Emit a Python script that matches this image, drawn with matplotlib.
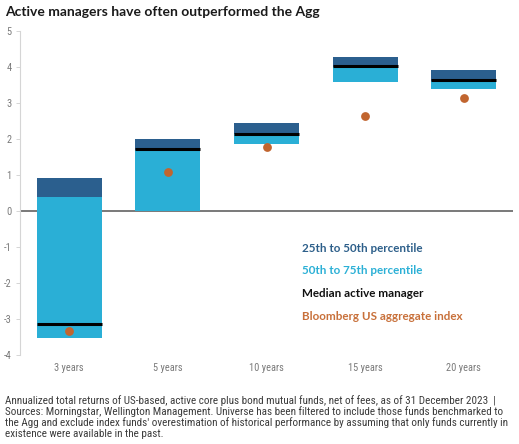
import matplotlib
matplotlib.use("Agg")
import matplotlib.pyplot as plt
from matplotlib import font_manager as fm

# ---- data ----
periods = ["3 years", "5 years", "10 years", "15 years", "20 years"]
p25_top = [0.91, 1.99, 2.45, 4.29, 3.92]      # top of dark band
band_split = [0.38, 1.70, 2.13, 3.99, 3.62]   # dark / light boundary
p75_bottom = [-3.54, 0.0, 1.85, 3.57, 3.38]   # bottom of light band
median = [-3.15, 1.72, 2.15, 4.02, 3.64]
agg_index = [-3.33, 1.07, 1.78, 2.65, 3.14]
yticks = [-4, -3, -2, -1, 0, 1, 2, 3, 4, 5]

DARK = "#2B5F8E"
LIGHT = "#2AAFD6"
ORANGE = "#C1652F"
GRAY = "#7a7a7a"

def pick(names, default="DejaVu Sans"):
    for n in names:
        try:
            fm.findfont(fm.FontProperties(family=n), fallback_to_default=False)
            return n
        except Exception:
            pass
    return default

narrow = pick(["Liberation Sans Narrow", "Roboto Condensed", "Open Sans Condensed", "Liberation Sans"])
boldf = pick(["Lato", "Open Sans", "DejaVu Sans"])

W, H = 519, 444
fig = plt.figure(figsize=(W / 100, H / 100), dpi=100)
ax = fig.add_axes([20 / W, 1 - 355 / H, 493 / W, (355 - 31) / H])

x = list(range(len(periods)))
bw = 0.66
light_h = [s - b for s, b in zip(band_split, p75_bottom)]
dark_h = [t - s for t, s in zip(p25_top, band_split)]
ax.bar(x, light_h, bottom=p75_bottom, width=bw, color=LIGHT, zorder=2)
ax.bar(x, dark_h, bottom=band_split, width=bw, color=DARK, zorder=2)
for xi, m in zip(x, median):
    ax.plot([xi - bw / 2, xi + bw / 2], [m, m], color="black", lw=2.2,
            solid_capstyle="butt", zorder=3)
ax.scatter(x, agg_index, s=40, color=ORANGE, zorder=4, linewidths=0)

ax.axhline(0, color="#6e6e6e", lw=1.3, zorder=1)

ax.set_xlim(-0.5, 4.5)
ax.set_ylim(-4, 5)
ax.set_yticks(yticks)
ax.set_yticklabels([str(v) for v in yticks], fontsize=7.5, color=GRAY, family=narrow)
ax.set_xticks(x)
ax.set_xticklabels(periods, fontsize=7.5, color=GRAY, family=narrow)
ax.tick_params(axis="x", length=0, pad=6)
ax.tick_params(axis="y", length=3, width=0.6, color="#cfcfcf", pad=3)
for s in ["top", "right", "bottom"]:
    ax.spines[s].set_visible(False)
ax.spines["left"].set_color("#d5d5d5")
ax.spines["left"].set_linewidth(0.8)

fig.text(5 / W, 1 - 11.5 / H, "Active managers have often outperformed the Agg",
         fontsize=10, fontweight="bold", family=boldf, color="#1a1a1a", va="center")

leg = [("25th to 50th percentile", "#2D5F8A"),
       ("50th to 75th percentile", "#2BB0D6"),
       ("Median active manager", "#111111"),
       ("Bloomberg US aggregate index", "#C8703A")]
for i, (t, c) in enumerate(leg):
    fig.text(302 / W, 1 - (248 + i * 22.7) / H, t, fontsize=8.4, fontweight="bold",
             family=boldf, color=c, va="center")

foot_lines = [
    "Annualized total returns of US-based, active core plus bond mutual funds, net of fees, as of 31 December 2023  |",
    "Sources: Morningstar, Wellington Management. Universe has been filtered to include those funds benchmarked to",
    "the Agg and exclude index funds' overestimation of historical performance by assuming that only funds currently in",
    "existence were available in the past.",
]
for i, line in enumerate(foot_lines):
    fig.text(5 / W, 1 - (404 + i * 11) / H, line, fontsize=8.0, family=narrow,
             color="#3c3c3c", va="baseline")

fig.savefig("out.png", dpi=100)
